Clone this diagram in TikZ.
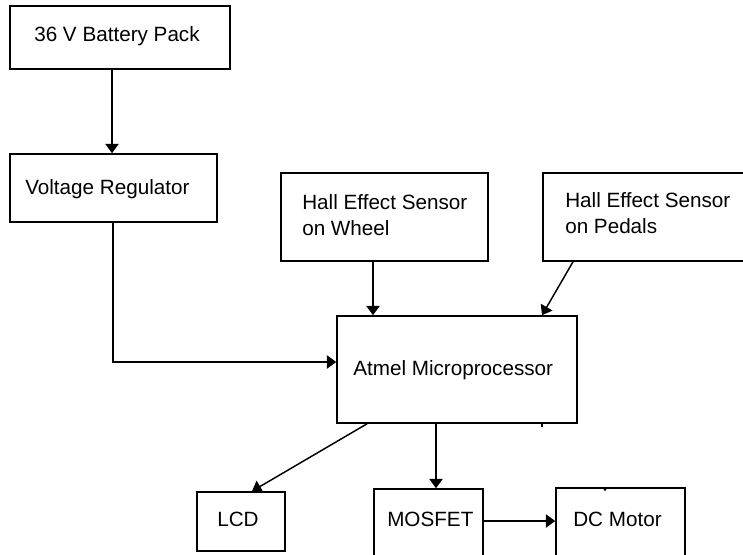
\documentclass[tikz,border=0pt]{standalone}
\usepackage{fontspec}
\setmainfont{Liberation Sans}
\usetikzlibrary{fit,arrows.meta,calc}
\begin{document}
\begin{tikzpicture}[x=0.75pt,y=-0.75pt,
  box/.style={draw=black, line width=1.2pt, inner sep=0pt, rectangle},
  lbl/.style={anchor=west, inner sep=0pt, font=\fontsize{15.5}{19.5}\selectfont, align=left},
  arr/.style={draw=black, line width=1.1pt, -{Triangle[width=10pt,length=7pt]}},
  conn/.style={draw=black, line width=1.1pt}]
\useasboundingbox (0,0) rectangle (743,554);
\clip (0,0) rectangle (743,554);
\fill[white] (0,0) rectangle (743,554);
% boxes
\node[box, fit={(10,6) (230,69)}] (bat) {};
\node[box, fit={(10,154) (217,222)}] (vr) {};
\node[box, fit={(281,173) (488,261)}] (hw) {};
\node[box, fit={(543,173) (760,261)}] (hp) {};
\node[box, fit={(337,316) (577,423)}] (atm) {};
\node[box, fit={(197,492) (285,551)}] (lcd) {};
\node[box, fit={(374,489) (483,570)}] (mos) {};
\node[box, fit={(556,488) (685,570)}] (dc) {};
% labels
\node[lbl] (tbat) at (34,36) {36 V Battery Pack};
\node[lbl] (tvr) at (25,189) {Voltage Regulator};
\node[lbl] (thw) at (302,215) {Hall Effect Sensor\\on Wheel};
\node[lbl] (thp) at (565,213) {Hall Effect Sensor\\on Pedals};
\node[lbl] (tatm) at (353,370) {Atmel Microprocessor};
\node[lbl] (tlcd) at (217,519) {LCD};
\node[lbl] (tmos) at (387,519) {MOSFET};
\node[lbl] (tdc) at (573,519) {DC Motor};
% helper coordinates
\coordinate (x112) at (112,0);
\coordinate (x113) at (113,0);
\coordinate (y362) at (0,362);
\coordinate (x373) at (373,0);
\coordinate (x573) at (573,0);
\coordinate (x542) at (542,0);
\coordinate (x367) at (367,0);
\coordinate (x252) at (252,0);
\coordinate (x436) at (436,0);
\coordinate (y521) at (0,521);
\coordinate (x605) at (605,0);
% connectors
\draw[arr] (x112 |- bat.south) -- (x112 |- vr.north);
\draw[arr] (x113 |- vr.south) |- (atm.west |- y362);
\draw[arr] (x373 |- hw.south) -- (x373 |- atm.north);
\draw[arr] (x573 |- hp.south) -- (x542 |- atm.north);
\draw[arr] (x367 |- atm.south) -- (x252 |- lcd.north);
\draw[arr] (x436 |- atm.south) -- (x436 |- mos.north);
\draw[arr] (mos.east |- y521) -- (dc.west |- y521);
% small stray marks
\draw[conn] (x542 |- atm.south) -- ++(0,3);
\fill (x605 |- dc.north) ++(-3,0) -- ++(6,0) -- ++(-3,4) -- cycle;
\end{tikzpicture}
\end{document}
